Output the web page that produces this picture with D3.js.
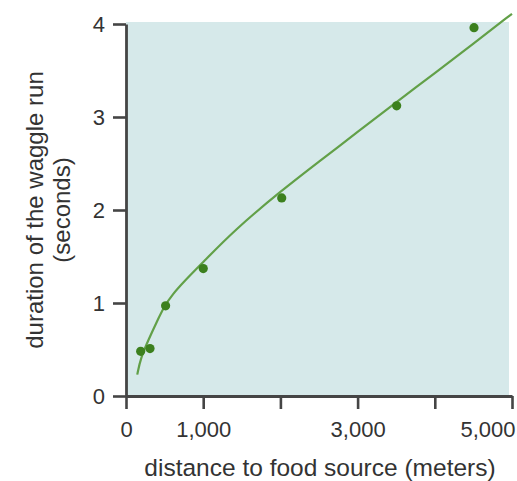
<!DOCTYPE html>
<html>
<head>
<meta charset="utf-8">
<script src="https://cdn.jsdelivr.net/npm/d3@7"></script>
<style>
  html, body { margin: 0; padding: 0; background: #fff; }
  svg text { font-family: "Liberation Sans", Arial, Helvetica, sans-serif; fill: #333; }
</style>
</head>
<body>
<svg id="chart" width="517" height="481"></svg>
<script>
// Observed waggle-run measurements
const distances = [190, 311, 513, 1001, 2017, 3506, 4508];        // meters
const durations = [0.48, 0.51, 0.97, 1.37, 2.13, 3.12, 3.96];     // seconds

// Fitted trend line samples
const fitDistances = [146, 190, 300, 400, 500, 600, 750, 1000, 1400, 2000, 2500, 3000, 3500, 4000, 4500, 5000];
const fitDurations = [0.23, 0.41, 0.62, 0.80, 0.97, 1.09, 1.23, 1.44, 1.78, 2.20, 2.52, 2.84, 3.16, 3.47, 3.79, 4.11];

// Axis ticks and labels
const xTicks = [0, 1000, 2000, 3000, 4000, 5000];
const xTickLabels = ["0", "1,000", "", "3,000", "", "5,000"];
const yTicks = [0, 1, 2, 3, 4];

const svg = d3.select("#chart");

const x = d3.scaleLinear().domain([0, 5000]).range([126, 512]);
const y = d3.scaleLinear().domain([0, 4]).range([396, 24]);

// plot background
svg.append("rect")
  .attr("x", x(0)).attr("y", y(4) - 2)
  .attr("width", 509 - x(0)).attr("height", y(0) - y(4) + 2)
  .attr("fill", "#d6e9ea");

// trend line (B-spline smooths the sampled fit)
const line = d3.line()
  .x((d, i) => x(fitDistances[i]))
  .y((d, i) => y(fitDurations[i]))
  .curve(d3.curveBasis);
svg.append("path")
  .datum(fitDistances)
  .attr("d", line)
  .attr("fill", "none")
  .attr("stroke", "#62a048")
  .attr("stroke-width", 2.2);

// data points
svg.append("g").selectAll("circle")
  .data(distances)
  .join("circle")
  .attr("cx", (d) => x(d))
  .attr("cy", (d, i) => y(durations[i]))
  .attr("r", 4.6)
  .attr("fill", "#3c801e");

const axisColor = "#454545";

// x axis
const xAxis = svg.append("g")
  .attr("transform", `translate(0,${y(0)})`)
  .call(d3.axisBottom(x).tickValues(xTicks).tickFormat((d, i) => xTickLabels[i]).tickSize(13).tickSizeOuter(0).tickPadding(12));
xAxis.select(".domain").attr("stroke", axisColor).attr("stroke-width", 2.8);
xAxis.selectAll(".tick line").attr("stroke", axisColor).attr("stroke-width", 2.6);
xAxis.selectAll(".tick text").attr("font-size", 22).attr("fill", "#333");
// keep the last label inside the frame
xAxis.selectAll(".tick text").filter((d) => d === 5000).attr("text-anchor", "end").attr("x", 3);

// y axis
const yAxis = svg.append("g")
  .attr("transform", `translate(${x(0)},0)`)
  .call(d3.axisLeft(y).tickValues(yTicks).tickFormat(d3.format("d")).tickSize(13).tickSizeOuter(0).tickPadding(8));
yAxis.select(".domain").attr("stroke", axisColor).attr("stroke-width", 2.8);
yAxis.selectAll(".tick line").attr("stroke", axisColor).attr("stroke-width", 2.6);
yAxis.selectAll(".tick text").attr("font-size", 22).attr("fill", "#333");

// axis titles
svg.append("text")
  .attr("x", 320)
  .attr("y", 476)
  .attr("text-anchor", "middle")
  .attr("font-size", 24.5)
  .text("distance to food source (meters)");

const yTitle = svg.append("text")
  .attr("transform", `translate(43,${(y(0) + y(4)) / 2}) rotate(-90)`)
  .attr("text-anchor", "middle")
  .attr("font-size", 24);
yTitle.append("tspan").attr("x", 0).attr("dy", 0).text("duration of the waggle run");
yTitle.append("tspan").attr("x", 0).attr("dy", 27).text("(seconds)");
</script>
</body>
</html>
